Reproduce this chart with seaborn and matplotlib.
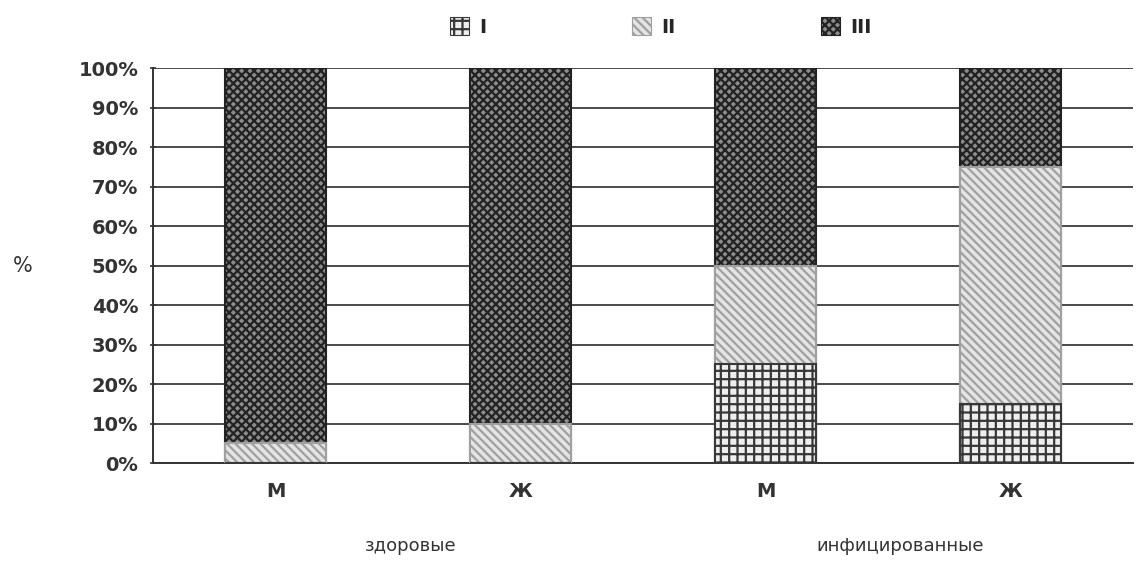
import numpy as np
import pandas as pd
import matplotlib
matplotlib.use("Agg")
import matplotlib.pyplot as plt
import seaborn as sns
from matplotlib.patches import Patch

# Данные (доли в %, снизу вверх: I, II, III)
group_ids = ["здоровые_М", "здоровые_Ж", "инфицированные_М", "инфицированные_Ж"]
sex_labels = ["М", "Ж", "М", "Ж"]
group_names = ["здоровые", "инфицированные"]
series_names = ["I", "II", "III"]
val_I = [0, 0, 25, 15]
val_II = [5, 10, 25, 60]
val_III = [95, 90, 50, 25]
y_ticks = [0, 10, 20, 30, 40, 50, 60, 70, 80, 90, 100]

sns.set_theme(style="white")
plt.rcParams["font.family"] = ["DejaVu Sans"]
plt.rcParams["hatch.linewidth"] = 1.6

df = pd.DataFrame({
    "group": group_ids,
    "I": val_I,
    "II": val_II,
    "III": val_III,
})
df["cum_I"] = df["I"]
df["cum_II"] = df["I"] + df["II"]
df["cum_III"] = df["I"] + df["II"] + df["III"]

fig = plt.figure(figsize=(11.39, 5.63), dpi=100)
ax = fig.add_axes([0.1343, 0.1776, 0.8604, 0.7016])

# стили штриховки для серий
styles = {
    "III": dict(face="#8c8c8c", edge="#222222", hatch="xxxx"),
    "II": dict(face="#e4e4e4", edge="#a0a0a0", hatch="\\\\\\\\"),
    "I": dict(face="#eeeeee", edge="#383838", hatch="++"),
}

# рисуем накопленные столбцы сверху вниз, каждый перекрывает предыдущий
for name in ["III", "II", "I"]:
    st = styles[name]
    n_before = len(ax.patches)
    sns.barplot(data=df, x="group", y="cum_" + name, order=group_ids,
                color=st["face"], width=0.41, saturation=1, ax=ax,
                zorder=3)
    for p in ax.patches[n_before:]:
        p.set_facecolor(st["face"])
        p.set_edgecolor(st["edge"])
        p.set_hatch(st["hatch"])
        p.set_linewidth(1.5)
        p.set_zorder(3)

ax.set_xlim(-0.5, 3.5)
ax.set_ylim(0, 100)
ax.set_yticks(y_ticks)
ax.set_yticklabels([f"{t}%" for t in y_ticks], fontsize=14,
                   fontweight="bold", color="#333333")
ax.yaxis.grid(True, color="#4a4a4a", linewidth=1.4, zorder=0)
ax.set_axisbelow(True)

# подписи М/Ж под столбцами, тики на границах категорий
ax.set_xticks([0, 1, 2, 3])
ax.set_xticklabels(sex_labels, fontsize=14, fontweight="bold",
                   color="#333333")
ax.tick_params(axis="x", length=0, pad=14)
ax.set_xticks([0.5, 1.5, 2.5], minor=True)
ax.tick_params(axis="x", which="minor", length=6, width=1.2,
               color="#333333", direction="out")
ax.tick_params(axis="y", length=5, width=1.2, color="#333333",
               direction="inout", left=True, pad=8)

for side in ["top", "right"]:
    ax.spines[side].set_visible(False)
for side in ["left", "bottom"]:
    ax.spines[side].set_color("#333333")
    ax.spines[side].set_linewidth(1.4)

ax.set_xlabel("")
ax.set_ylabel("%", fontsize=15, rotation=0, color="#333333",
              labelpad=40, va="center")

# подписи групп
for i, g in enumerate(group_names):
    ax.text(0.55 + 2 * i, -21, g, ha="center", va="center", fontsize=13,
            color="#333333", transform=ax.transData, clip_on=False)

handles = [
    Patch(facecolor=styles[n]["face"], edgecolor=styles[n]["edge"],
          hatch=styles[n]["hatch"], linewidth=0.8)
    for n in series_names
]
fig.legend(handles, series_names, loc="upper center",
           bbox_to_anchor=(0.58, 1.0), ncol=3, frameon=False,
           prop={"weight": "bold", "size": 14},
           columnspacing=7.5, handlelength=1.0, handleheight=1.0,
           handletextpad=0.5)

fig.savefig("out.png", dpi=100)
